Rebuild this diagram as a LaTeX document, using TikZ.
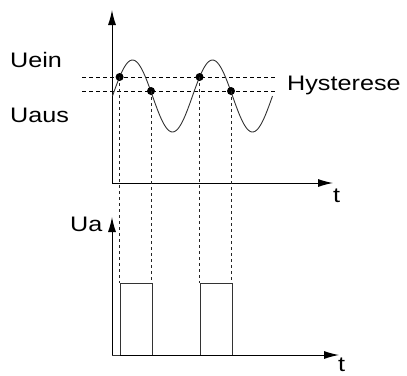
\documentclass[tikz,border=0pt]{standalone}
\usepackage{fontspec}
\setmainfont{Liberation Sans}[FakeStretch=1.2]
\usetikzlibrary{arrows.meta}
\begin{document}
\begin{tikzpicture}[x=1bp,y=-1bp,
  axis/.style={line width=1bp, -{Latex[length=15bp,width=8bp]}},
  curve/.style={line width=0.9bp, black!80},
  hyst/.style={line width=0.9bp, dash pattern=on 4bp off 3bp},
  drop/.style={line width=0.9bp, dash pattern=on 3bp off 3bp, black!85},
  pulse/.style={line width=1bp, black!80},
  dot/.style={circle, fill=black, inner sep=0pt, minimum size=8bp},
  lbl/.style={inner sep=0pt, font=\fontsize{21bp}{24bp}\selectfont}]
\useasboundingbox (0,0) rectangle (407,376);
% axes origins
\coordinate (o1) at (112,183);
\coordinate (y1) at (112,10);
\coordinate (x1) at (333,183);
\coordinate (o2) at (112,355);
\coordinate (y2) at (112,217);
\coordinate (x2) at (339,355);
\draw[axis] (o1) -- (y1);
\draw[axis] (o1) -- (x1);
\draw[axis] (o2) -- (y2);
\draw[axis] (o2) -- (x2);
% hysteresis lines
\coordinate (h1a) at (82,77);  \coordinate (h1b) at (277,77);
\coordinate (h2a) at (82,91);  \coordinate (h2b) at (277,91);
\draw[hyst] (h1a) -- (h1b);
\draw[hyst] (h2a) -- (h2b);
% sine
\draw[curve] plot[domain=0:160, samples=120, smooth] ({112.5+\x},{96-36*sin(4.5*\x)});
% dots
\node[dot] (d1) at (119.6,77) {};
\node[dot] (d2) at (151,91) {};
\node[dot] (d3) at (199.6,77) {};
\node[dot] (d4) at (231,91) {};
% pulses
\coordinate (p1a) at (120,355); \coordinate (p1b) at (120,283);
\coordinate (p1c) at (152,283); \coordinate (p1d) at (152,355);
\coordinate (p2a) at (200,355); \coordinate (p2b) at (200,283);
\coordinate (p2c) at (232.5,283); \coordinate (p2d) at (232.5,355);
\draw[pulse] (p1a) -- (p1b) -- (p1c) -- (p1d);
\draw[pulse] (p2a) -- (p2b) -- (p2c) -- (p2d);
\draw[pulse] (o2) -- (p1a);
% drop lines
\draw[drop] (d1.center) -- (d1.center |- p1b);
\draw[drop] (d2.center) -- (d2.center |- p1c);
\draw[drop] (d3.center) -- (d3.center |- p2b);
\draw[drop] (d4.center) -- (d4.center |- p2c);
% labels
\node[lbl, anchor=base west] (uein) at (10,67) {Uein};
\node[lbl, anchor=base west] (uaus) at (10,122) {Uaus};
\node[lbl, anchor=base west] (hy) at (287,90) {Hysterese};
\node[lbl, anchor=base west] (ua) at (70,231) {Ua};
\node[lbl, anchor=base west] (t1) at (333,202) {t};
\node[lbl, anchor=base west] (t2) at (338,371) {t};
\end{tikzpicture}
\end{document}
